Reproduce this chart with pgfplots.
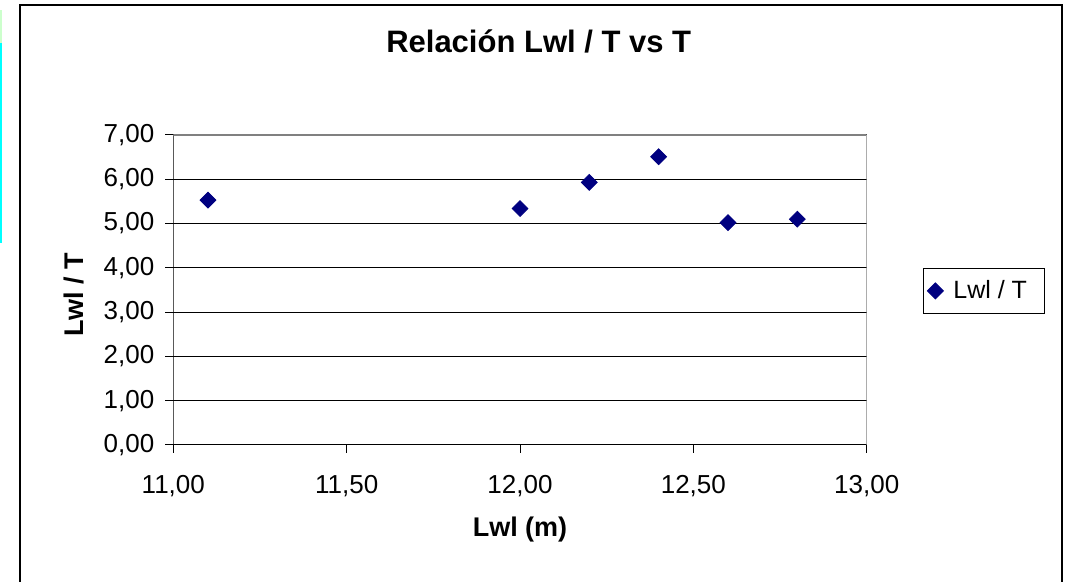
\documentclass[border=0pt]{standalone}
\usepackage{fontspec}
\setmainfont{Liberation Sans}
\usepackage{pgfplots}
\pgfplotsset{compat=1.18}
\definecolor{navyc}{HTML}{000080}
\definecolor{borderg}{HTML}{808080}
\definecolor{scrcyan}{HTML}{00FFFF}
\definecolor{scrgreen}{HTML}{CCFFCC}
\begin{document}
\begin{tikzpicture}[x=0.5pt,y=0.5pt]
\useasboundingbox (0,0) rectangle (1071,582);
\fill[white] (0,0) rectangle (1071,582);
% left-edge artefact of the source screenshot
\fill[scrcyan] (0,339) rectangle (2,539);
\fill[scrgreen] (0,539) rectangle (2,572);
% chart frame
\draw[black, line width=0.6pt] (20,-2) -- (20,577) -- (1062,577) -- (1062,-2);
\begin{axis}[
  at={(86.65pt,68.5pt)}, anchor=south west,
  width=346.7pt, height=155pt, scale only axis,
  xmin=11, xmax=13, ymin=0, ymax=7,
  xtick={11,11.5,12,12.5,13},
  ytick={0,1,2,3,4,5,6,7},
  xtick pos=bottom, ytick pos=left,
  tick align=outside, major tick length=4pt,
  tick style={black, line width=0.5pt},
  axis line style={draw=none},
  ymajorgrids, grid style={black, line width=0.5pt},
  /pgf/number format/.cd, fixed, fixed zerofill, precision=2, use comma, assume math mode=true,
  /pgfplots/.cd,
  tick label style={font=\fontsize{13}{15}\selectfont},
  yticklabel style={xshift=-2pt},
  xticklabel style={yshift=-7.5pt},
  title={\textbf{Relación Lwl / T vs T}},
  title style={font=\fontsize{15.5}{18}\selectfont, at={(axis description cs:0.527,1)}, anchor=base, yshift=35pt},
  xlabel={\textbf{Lwl (m)}},
  xlabel style={font=\fontsize{13.5}{16}\selectfont, at={(axis description cs:0.5,0)}, anchor=base, yshift=-46pt},
  ylabel={\textbf{Lwl / T}},
  ylabel style={font=\fontsize{13.5}{16}\selectfont, at={(axis description cs:0,0.484)}, anchor=center, yshift=49.5pt},
  legend style={at={(axis description cs:1.0812,0.497)}, anchor=west,
    draw=black, line width=0.5pt, font=\fontsize{12.5}{15}\selectfont,
    inner xsep=2pt, inner ysep=4pt},
  legend cell align=left,
]
\draw[black, line width=0.6pt] (rel axis cs:0,1) -- (rel axis cs:0,0) -- (rel axis cs:1,0);
\draw[borderg, line width=1.1pt] (rel axis cs:0,1) -- (rel axis cs:1,1) -- (rel axis cs:1,0);
\addplot[only marks, mark=square*, mark size=2.8pt, mark options={rotate=45, fill=navyc, draw=navyc}]
  coordinates {(11.10,5.53) (12.00,5.34) (12.20,5.93) (12.40,6.51) (12.60,5.02) (12.80,5.10)};
\addlegendentry{\rule{3pt}{0pt}Lwl / T\rule{5pt}{0pt}}
\end{axis}
\end{tikzpicture}
\end{document}
